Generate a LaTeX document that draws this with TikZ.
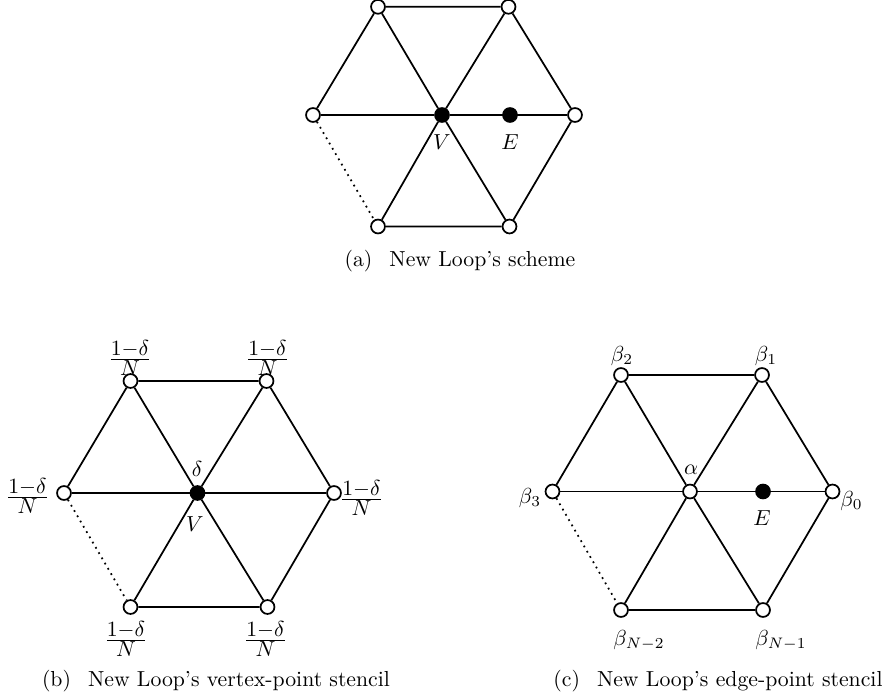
\documentclass[tikz,border=0pt]{standalone}
\usepackage{amsmath}
\begin{document}
\begin{tikzpicture}[x=0.46pt,y=-0.46pt,
  edge/.style={line width=0.8pt},
  dotedge/.style={line width=0.8pt,dotted},
  open/.style={circle,draw,fill=white,minimum size=6.4pt,inner sep=0pt,line width=0.8pt},
  full/.style={circle,draw,fill=black,minimum size=6.4pt,inner sep=0pt,line width=0.8pt},
  lab/.style={inner sep=0pt},
  captext/.style={inner sep=0pt,font=\normalsize}]
\def\wt{$\frac{\textstyle 1{-}\delta}{\textstyle N}$}
\useasboundingbox (0,0) rectangle (882,699);
% ---------- (a) ----------
\node[open] (a0) at (575,115) {};
\node[open] (a1) at (508.5,6.8) {};
\node[open] (a2) at (378,6.8) {};
\node[open] (a3) at (313,115) {};
\node[open] (a4) at (378,226.5) {};
\node[open] (a5) at (509.5,226.5) {};
\node[full] (ac) at (442,115) {};
\draw[edge] (a0) -- (a1) -- (a2) -- (a3);
\draw[dotedge] (a3) -- (a4);
\draw[edge] (a4) -- (a5) -- (a0);
\foreach \i in {0,...,5} \draw[edge] (ac) -- (a\i);
\node[full] (ae) at (510,115) {};
\node[lab] (aV) at (442,142) {$V$};
\node[lab] (aE) at (510,142) {$E$};
\node[captext] (capa) at (460,261) {(a)\hspace{4.5pt} New Loop's scheme};
% ---------- (b) ----------
\node[open] (b0) at (334,493) {};
\node[open] (b1) at (266.5,381) {};
\node[open] (b2) at (130.5,381) {};
\node[open] (b3) at (64,493) {};
\node[open] (b4) at (130.5,607) {};
\node[open] (b5) at (267.5,607) {};
\node[full] (bc) at (197.5,493) {};
\draw[edge] (b0) -- (b1) -- (b2) -- (b3);
\draw[dotedge] (b3) -- (b4);
\draw[edge] (b4) -- (b5) -- (b0);
\foreach \i in {0,...,5} \draw[edge] (bc) -- (b\i);
\node[lab] (bd) at (197,469) {$\delta$};
\node[lab] (bV) at (195,524) {$V$};
\node[lab] (lb1) at (267.5,358) {\wt};
\node[lab] (lb2) at (130,358) {\wt};
\node[lab] (lb3) at (27.5,496) {\wt};
\node[lab] (lb0) at (361.5,498) {\wt};
\node[lab] (lb4) at (126,639) {\wt};
\node[lab] (lb5) at (265.5,639) {\wt};
\node[captext] (capb) at (216,681) {(b)\hspace{4.5pt} New Loop's vertex-point stencil};
% ---------- (c) ----------
\node[open] (c0) at (832.5,491.5) {};
\node[open] (c1) at (762,375) {};
\node[open] (c2) at (621,375) {};
\node[open] (c3) at (552.5,491.5) {};
\node[open] (c4) at (621,610) {};
\node[open] (c5) at (763,610) {};
\node[open] (cc) at (690,491.5) {};
\draw[edge] (c0) -- (c1) -- (c2) -- (c3);
\draw[dotedge] (c3) -- (c4);
\draw[edge] (c4) -- (c5) -- (c0);
\foreach \i in {0,...,5} \draw[edge] (cc) -- (c\i);
\node[full] (ce) at (763,491.5) {};
\node[lab] (ca) at (691,470) {$\alpha$};
\node[lab] (cE) at (762,518) {$E$};
\node[lab] (lc2) at (622,356) {$\beta_2$};
\node[lab] (lc1) at (766,356) {$\beta_1$};
\node[lab] (lc3) at (530,498) {$\beta_3$};
\node[lab] (lc0) at (851.5,501) {$\beta_0$};
\node[lab] (lc4) at (639,640) {$\beta_{N-2}$};
\node[lab] (lc5) at (781,640) {$\beta_{N-1}$};
\node[captext] (capc) at (718,681) {(c)\hspace{4.5pt} New Loop's edge-point stencil};
\end{tikzpicture}
\end{document}
